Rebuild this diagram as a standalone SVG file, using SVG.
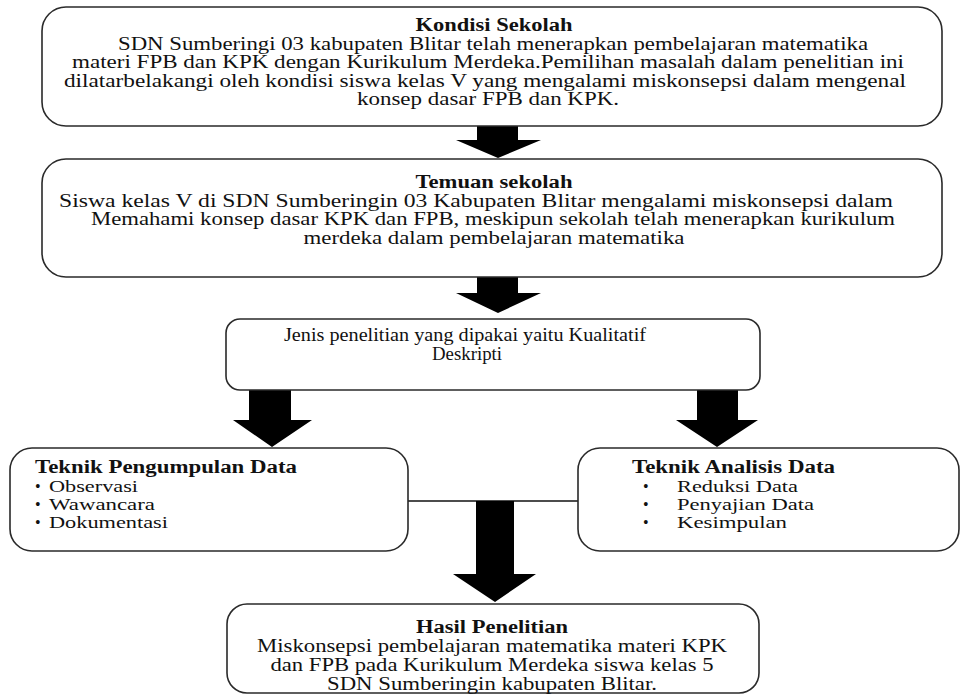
<svg xmlns="http://www.w3.org/2000/svg" width="964" height="696" viewBox="0 0 964 696">
<style>
.box{fill:#fff;stroke:#2a2a2a;stroke-width:1.6}
.t{font-family:"Liberation Serif","Times New Roman",serif;font-size:18px;fill:#111}
.s{font-size:16px}
.b{font-weight:bold}
.c{text-anchor:middle}
.arr{fill:#000}
.ln{stroke:#111;stroke-width:1.6;fill:none}
</style>
<rect width="964" height="696" fill="#fff"/>
<g id="connectors">
<polygon class="arr" points="477,126 518,126 518,140 541,140 498,158 456,140 477,140"/>
<polygon class="arr" points="477,277 518,277 518,293 541,293 498,313 456,293 477,293"/>
<polygon class="arr" points="249,390 291,390 291,420 312,420 272,447 233,420 249,420"/>
<polygon class="arr" points="697,390 738,390 738,420 758,420 717,447 676,420 697,420"/>
<line class="ln" x1="408" y1="501" x2="578" y2="501"/>
<polygon class="arr" points="476,501 514,501 514,574 536,574 495,602 453,574 476,574"/>
</g>
<g id="kondisi">
<rect class="box" x="42" y="7" width="900" height="119" rx="24"/>
<text class="t b c" x="494" y="31" textLength="157" lengthAdjust="spacingAndGlyphs">Kondisi Sekolah</text>
<text class="t c" x="493" y="49.5" textLength="750" lengthAdjust="spacingAndGlyphs">SDN Sumberingi 03 kabupaten Blitar telah menerapkan pembelajaran matematika</text>
<text class="t c" x="488" y="68" textLength="832" lengthAdjust="spacingAndGlyphs">materi FPB dan KPK dengan Kurikulum Merdeka.Pemilihan masalah dalam penelitian ini</text>
<text class="t c" x="485" y="86.5" textLength="842" lengthAdjust="spacingAndGlyphs">dilatarbelakangi oleh kondisi siswa kelas V yang mengalami miskonsepsi dalam mengenal</text>
<text class="t c" x="488" y="105" textLength="262" lengthAdjust="spacingAndGlyphs">konsep dasar FPB dan KPK.</text>
</g>
<g id="temuan">
<rect class="box" x="42" y="159" width="900" height="118" rx="24"/>
<text class="t b c" x="494" y="188" textLength="157" lengthAdjust="spacingAndGlyphs">Temuan sekolah</text>
<text class="t c" x="476" y="206.5" textLength="834" lengthAdjust="spacingAndGlyphs">Siswa kelas V di SDN Sumberingin 03 Kabupaten Blitar mengalami miskonsepsi dalam</text>
<text class="t c" x="493" y="225" textLength="804" lengthAdjust="spacingAndGlyphs">Memahami konsep dasar KPK dan FPB, meskipun sekolah telah menerapkan kurikulum</text>
<text class="t c" x="494" y="243.5" textLength="381" lengthAdjust="spacingAndGlyphs">merdeka dalam pembelajaran matematika</text>
</g>
<g id="jenis">
<rect class="box" x="226" y="319" width="534" height="71" rx="14"/>
<text class="t c" x="465" y="341" textLength="362" lengthAdjust="spacingAndGlyphs">Jenis penelitian yang dipakai yaitu Kualitatif</text>
<text class="t c" x="467" y="360" textLength="70" lengthAdjust="spacingAndGlyphs">Deskripti</text>
</g>
<g id="pengumpulan">
<rect class="box" x="10" y="448" width="398" height="103" rx="22"/>
<text class="t b" x="35" y="473" textLength="262" lengthAdjust="spacingAndGlyphs">Teknik Pengumpulan Data</text>
<text class="t s" y="492"><tspan x="35">•</tspan><tspan x="49" textLength="89" lengthAdjust="spacingAndGlyphs">Observasi</tspan></text>
<text class="t s" y="510"><tspan x="35">•</tspan><tspan x="49" textLength="106" lengthAdjust="spacingAndGlyphs">Wawancara</tspan></text>
<text class="t s" y="528"><tspan x="35">•</tspan><tspan x="49" textLength="119" lengthAdjust="spacingAndGlyphs">Dokumentasi</tspan></text>
</g>
<g id="analisis">
<rect class="box" x="578" y="448" width="381" height="103" rx="22"/>
<text class="t b" x="632" y="473" textLength="203" lengthAdjust="spacingAndGlyphs">Teknik Analisis Data</text>
<text class="t s" y="492"><tspan x="643">•</tspan><tspan x="677" textLength="121" lengthAdjust="spacingAndGlyphs">Reduksi Data</tspan></text>
<text class="t s" y="510"><tspan x="643">•</tspan><tspan x="677" textLength="137" lengthAdjust="spacingAndGlyphs">Penyajian Data</tspan></text>
<text class="t s" y="528"><tspan x="643">•</tspan><tspan x="677" textLength="110" lengthAdjust="spacingAndGlyphs">Kesimpulan</tspan></text>
</g>
<g id="hasil">
<rect class="box" x="227" y="604" width="532" height="89" rx="20"/>
<text class="t b c" x="492" y="633" textLength="152" lengthAdjust="spacingAndGlyphs">Hasil Penelitian</text>
<text class="t c" x="492" y="652" textLength="470" lengthAdjust="spacingAndGlyphs">Miskonsepsi pembelajaran matematika materi KPK</text>
<text class="t c" x="492" y="671" textLength="443" lengthAdjust="spacingAndGlyphs">dan FPB pada Kurikulum Merdeka siswa kelas 5</text>
<text class="t c" x="492" y="690" textLength="330" lengthAdjust="spacingAndGlyphs">SDN Sumberingin kabupaten Blitar.</text>
</g>
</svg>
